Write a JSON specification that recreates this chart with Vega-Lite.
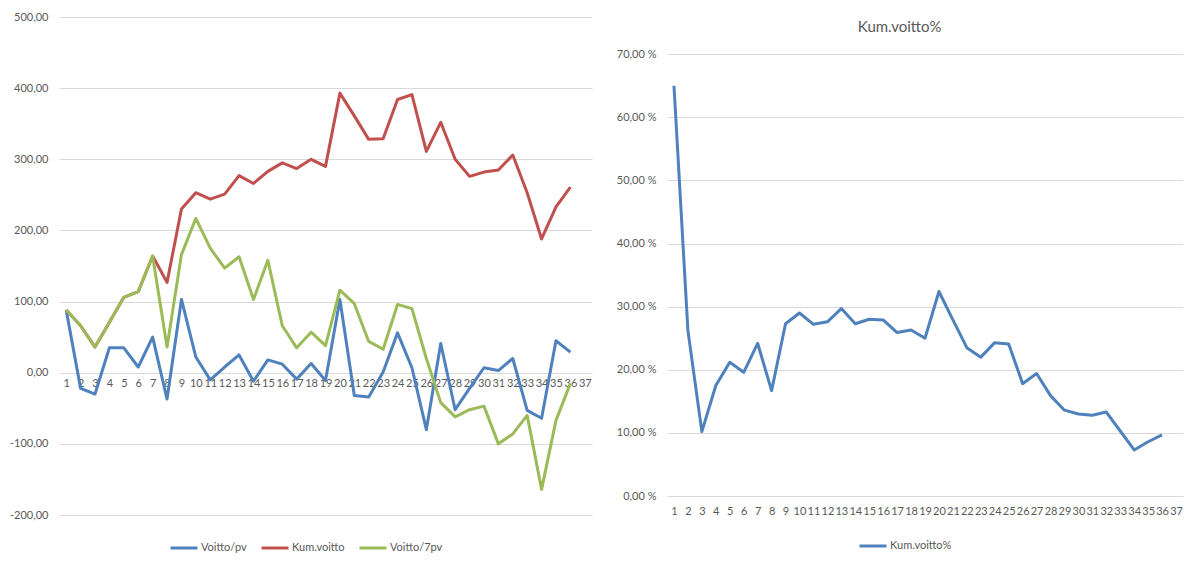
{
  "$schema": "https://vega.github.io/schema/vega-lite/v6.json",
  "background": "white",
  "padding": {"left": 9, "top": 11, "right": 5, "bottom": 5},
  "datasets": {
    "paivat": [
      {"paiva": 1, "voitto_pv": 88, "kum_voitto": 88, "voitto_7pv": 88, "kum_pct": 65.0},
      {"paiva": 2, "voitto_pv": -22, "kum_voitto": 66, "voitto_7pv": 66, "kum_pct": 26.2},
      {"paiva": 3, "voitto_pv": -30, "kum_voitto": 36, "voitto_7pv": 36, "kum_pct": 10.2},
      {"paiva": 4, "voitto_pv": 35, "kum_voitto": 71, "voitto_7pv": 71, "kum_pct": 17.5},
      {"paiva": 5, "voitto_pv": 35, "kum_voitto": 106, "voitto_7pv": 106, "kum_pct": 21.2},
      {"paiva": 6, "voitto_pv": 8, "kum_voitto": 114, "voitto_7pv": 114, "kum_pct": 19.6},
      {"paiva": 7, "voitto_pv": 50, "kum_voitto": 164, "voitto_7pv": 164, "kum_pct": 24.2},
      {"paiva": 8, "voitto_pv": -37, "kum_voitto": 127, "voitto_7pv": 36, "kum_pct": 16.7},
      {"paiva": 9, "voitto_pv": 103, "kum_voitto": 230, "voitto_7pv": 166, "kum_pct": 27.3},
      {"paiva": 10, "voitto_pv": 22, "kum_voitto": 253, "voitto_7pv": 217, "kum_pct": 29.0},
      {"paiva": 11, "voitto_pv": -10, "kum_voitto": 244, "voitto_7pv": 175, "kum_pct": 27.2},
      {"paiva": 12, "voitto_pv": 8, "kum_voitto": 251, "voitto_7pv": 147, "kum_pct": 27.6},
      {"paiva": 13, "voitto_pv": 25, "kum_voitto": 277, "voitto_7pv": 163, "kum_pct": 29.7},
      {"paiva": 14, "voitto_pv": -12, "kum_voitto": 266, "voitto_7pv": 103, "kum_pct": 27.3},
      {"paiva": 15, "voitto_pv": 18, "kum_voitto": 283, "voitto_7pv": 158, "kum_pct": 28.0},
      {"paiva": 16, "voitto_pv": 12, "kum_voitto": 295, "voitto_7pv": 66, "kum_pct": 27.9},
      {"paiva": 17, "voitto_pv": -9, "kum_voitto": 287, "voitto_7pv": 35, "kum_pct": 25.9},
      {"paiva": 18, "voitto_pv": 13, "kum_voitto": 300, "voitto_7pv": 57, "kum_pct": 26.3},
      {"paiva": 19, "voitto_pv": -11, "kum_voitto": 290, "voitto_7pv": 38, "kum_pct": 25.0},
      {"paiva": 20, "voitto_pv": 103, "kum_voitto": 393, "voitto_7pv": 116, "kum_pct": 32.4},
      {"paiva": 21, "voitto_pv": -32, "kum_voitto": 361, "voitto_7pv": 97, "kum_pct": 27.9},
      {"paiva": 22, "voitto_pv": -34, "kum_voitto": 328, "voitto_7pv": 44, "kum_pct": 23.5},
      {"paiva": 23, "voitto_pv": 1, "kum_voitto": 329, "voitto_7pv": 33, "kum_pct": 22.0},
      {"paiva": 24, "voitto_pv": 56, "kum_voitto": 384, "voitto_7pv": 96, "kum_pct": 24.3},
      {"paiva": 25, "voitto_pv": 7, "kum_voitto": 391, "voitto_7pv": 90, "kum_pct": 24.1},
      {"paiva": 26, "voitto_pv": -80, "kum_voitto": 311, "voitto_7pv": 20, "kum_pct": 17.8},
      {"paiva": 27, "voitto_pv": 41, "kum_voitto": 352, "voitto_7pv": -42, "kum_pct": 19.4},
      {"paiva": 28, "voitto_pv": -52, "kum_voitto": 300, "voitto_7pv": -62, "kum_pct": 15.9},
      {"paiva": 29, "voitto_pv": -22, "kum_voitto": 276, "voitto_7pv": -52, "kum_pct": 13.6},
      {"paiva": 30, "voitto_pv": 7, "kum_voitto": 282, "voitto_7pv": -47, "kum_pct": 13.0},
      {"paiva": 31, "voitto_pv": 3, "kum_voitto": 285, "voitto_7pv": -100, "kum_pct": 12.8},
      {"paiva": 32, "voitto_pv": 20, "kum_voitto": 306, "voitto_7pv": -86, "kum_pct": 13.3},
      {"paiva": 33, "voitto_pv": -53, "kum_voitto": 253, "voitto_7pv": -60, "kum_pct": 10.3},
      {"paiva": 34, "voitto_pv": -64, "kum_voitto": 188, "voitto_7pv": -164, "kum_pct": 7.3},
      {"paiva": 35, "voitto_pv": 45, "kum_voitto": 233, "voitto_7pv": -67, "kum_pct": 8.6},
      {"paiva": 36, "voitto_pv": 29, "kum_voitto": 261, "voitto_7pv": -15, "kum_pct": 9.7}
    ]
  },
  "data": {"name": "paivat"},
  "spacing": 24,
  "resolve": {"scale": {"color": "independent"}, "legend": {"color": "independent"}},
  "hconcat": [
    {
      "width": 533,
      "height": 498,
      "transform": [
        {"fold": ["voitto_pv", "kum_voitto", "voitto_7pv"], "as": ["sarja", "arvo"]}
      ],
      "mark": {"type": "line", "strokeWidth": 3, "strokeJoin": "round"},
      "encoding": {
        "x": {
          "field": "paiva",
          "type": "ordinal",
          "scale": {
            "type": "point",
            "padding": 0.5,
            "domain": [1, 2, 3, 4, 5, 6, 7, 8, 9, 10, 11, 12, 13, 14, 15, 16, 17, 18, 19, 20, 21, 22, 23, 24, 25, 26, 27, 28, 29, 30, 31, 32, 33, 34, 35, 36, 37]
          },
          "axis": {
            "title": null,
            "labelAngle": 0,
            "offset": -142,
            "domain": false,
            "ticks": false,
            "grid": false,
            "labelPadding": 4,
            "labelOverlap": false
          }
        },
        "y": {
          "field": "arvo",
          "type": "quantitative",
          "scale": {"domain": [-200, 500], "nice": false, "zero": false},
          "axis": {
            "title": null,
            "values": [-200, -100, 0, 100, 200, 300, 400, 500],
            "labelExpr": "(datum.value < 0 ? '-' : '') + replace(format(abs(datum.value), '.2f'), '.', ',')",
            "domain": false,
            "ticks": false,
            "labelPadding": 11
          }
        },
        "color": {
          "field": "sarja",
          "type": "nominal",
          "scale": {
            "domain": ["voitto_pv", "kum_voitto", "voitto_7pv"],
            "range": ["#4F81BD", "#C0504D", "#9BBB59"]
          },
          "legend": {
            "title": null,
            "orient": "none",
            "direction": "horizontal",
            "legendX": 110,
            "legendY": 516,
            "symbolType": "stroke",
            "symbolSize": 729,
            "symbolStrokeWidth": 3,
            "labelOffset": 2,
            "columnPadding": 8,
            "gridAlign": "none",
            "labelExpr": "datum.label == 'voitto_pv' ? 'Voitto/pv' : datum.label == 'kum_voitto' ? 'Kum.voitto' : 'Voitto/7pv'"
          }
        }
      }
    },
    {
      "width": 516,
      "height": 479,
      "title": {
        "text": "Kum.voitto%",
        "frame": "bounds",
        "anchor": "middle",
        "offset": -18,
        "fontSize": 15,
        "fontWeight": "normal",
        "color": "#595959"
      },
      "mark": {"type": "line", "strokeWidth": 3, "strokeJoin": "round"},
      "encoding": {
        "x": {
          "field": "paiva",
          "type": "ordinal",
          "scale": {
            "type": "point",
            "padding": 0.5,
            "domain": [1, 2, 3, 4, 5, 6, 7, 8, 9, 10, 11, 12, 13, 14, 15, 16, 17, 18, 19, 20, 21, 22, 23, 24, 25, 26, 27, 28, 29, 30, 31, 32, 33, 34, 35, 36, 37]
          },
          "axis": {
            "title": null,
            "labelAngle": 0,
            "domain": false,
            "ticks": false,
            "grid": false,
            "labelPadding": 9,
            "labelOverlap": false
          }
        },
        "y": {
          "field": "kum_pct",
          "type": "quantitative",
          "scale": {"domain": [0, 75.9], "nice": false},
          "axis": {
            "title": null,
            "values": [0, 10, 20, 30, 40, 50, 60, 70],
            "labelExpr": "replace(format(datum.value, '.2f'), '.', ',') + ' %'",
            "domain": false,
            "ticks": false,
            "labelPadding": 11
          }
        },
        "color": {
          "datum": "Kum.voitto%",
          "type": "nominal",
          "scale": {"range": ["#4F81BD"]},
          "legend": {
            "title": null,
            "orient": "none",
            "direction": "horizontal",
            "legendX": 191,
            "legendY": 514,
            "symbolType": "stroke",
            "symbolSize": 729,
            "symbolStrokeWidth": 3,
            "labelOffset": 2
          }
        }
      }
    }
  ],
  "config": {
    "view": {"stroke": null},
    "font": "Lato",
    "axis": {
      "labelFont": "Lato",
      "labelFontSize": 11,
      "labelColor": "#595959",
      "gridColor": "#D9D9D9",
      "gridWidth": 1
    },
    "legend": {
      "labelFont": "Lato",
      "labelFontSize": 11,
      "labelColor": "#595959"
    },
    "title": {"font": "Lato"}
  }
}
